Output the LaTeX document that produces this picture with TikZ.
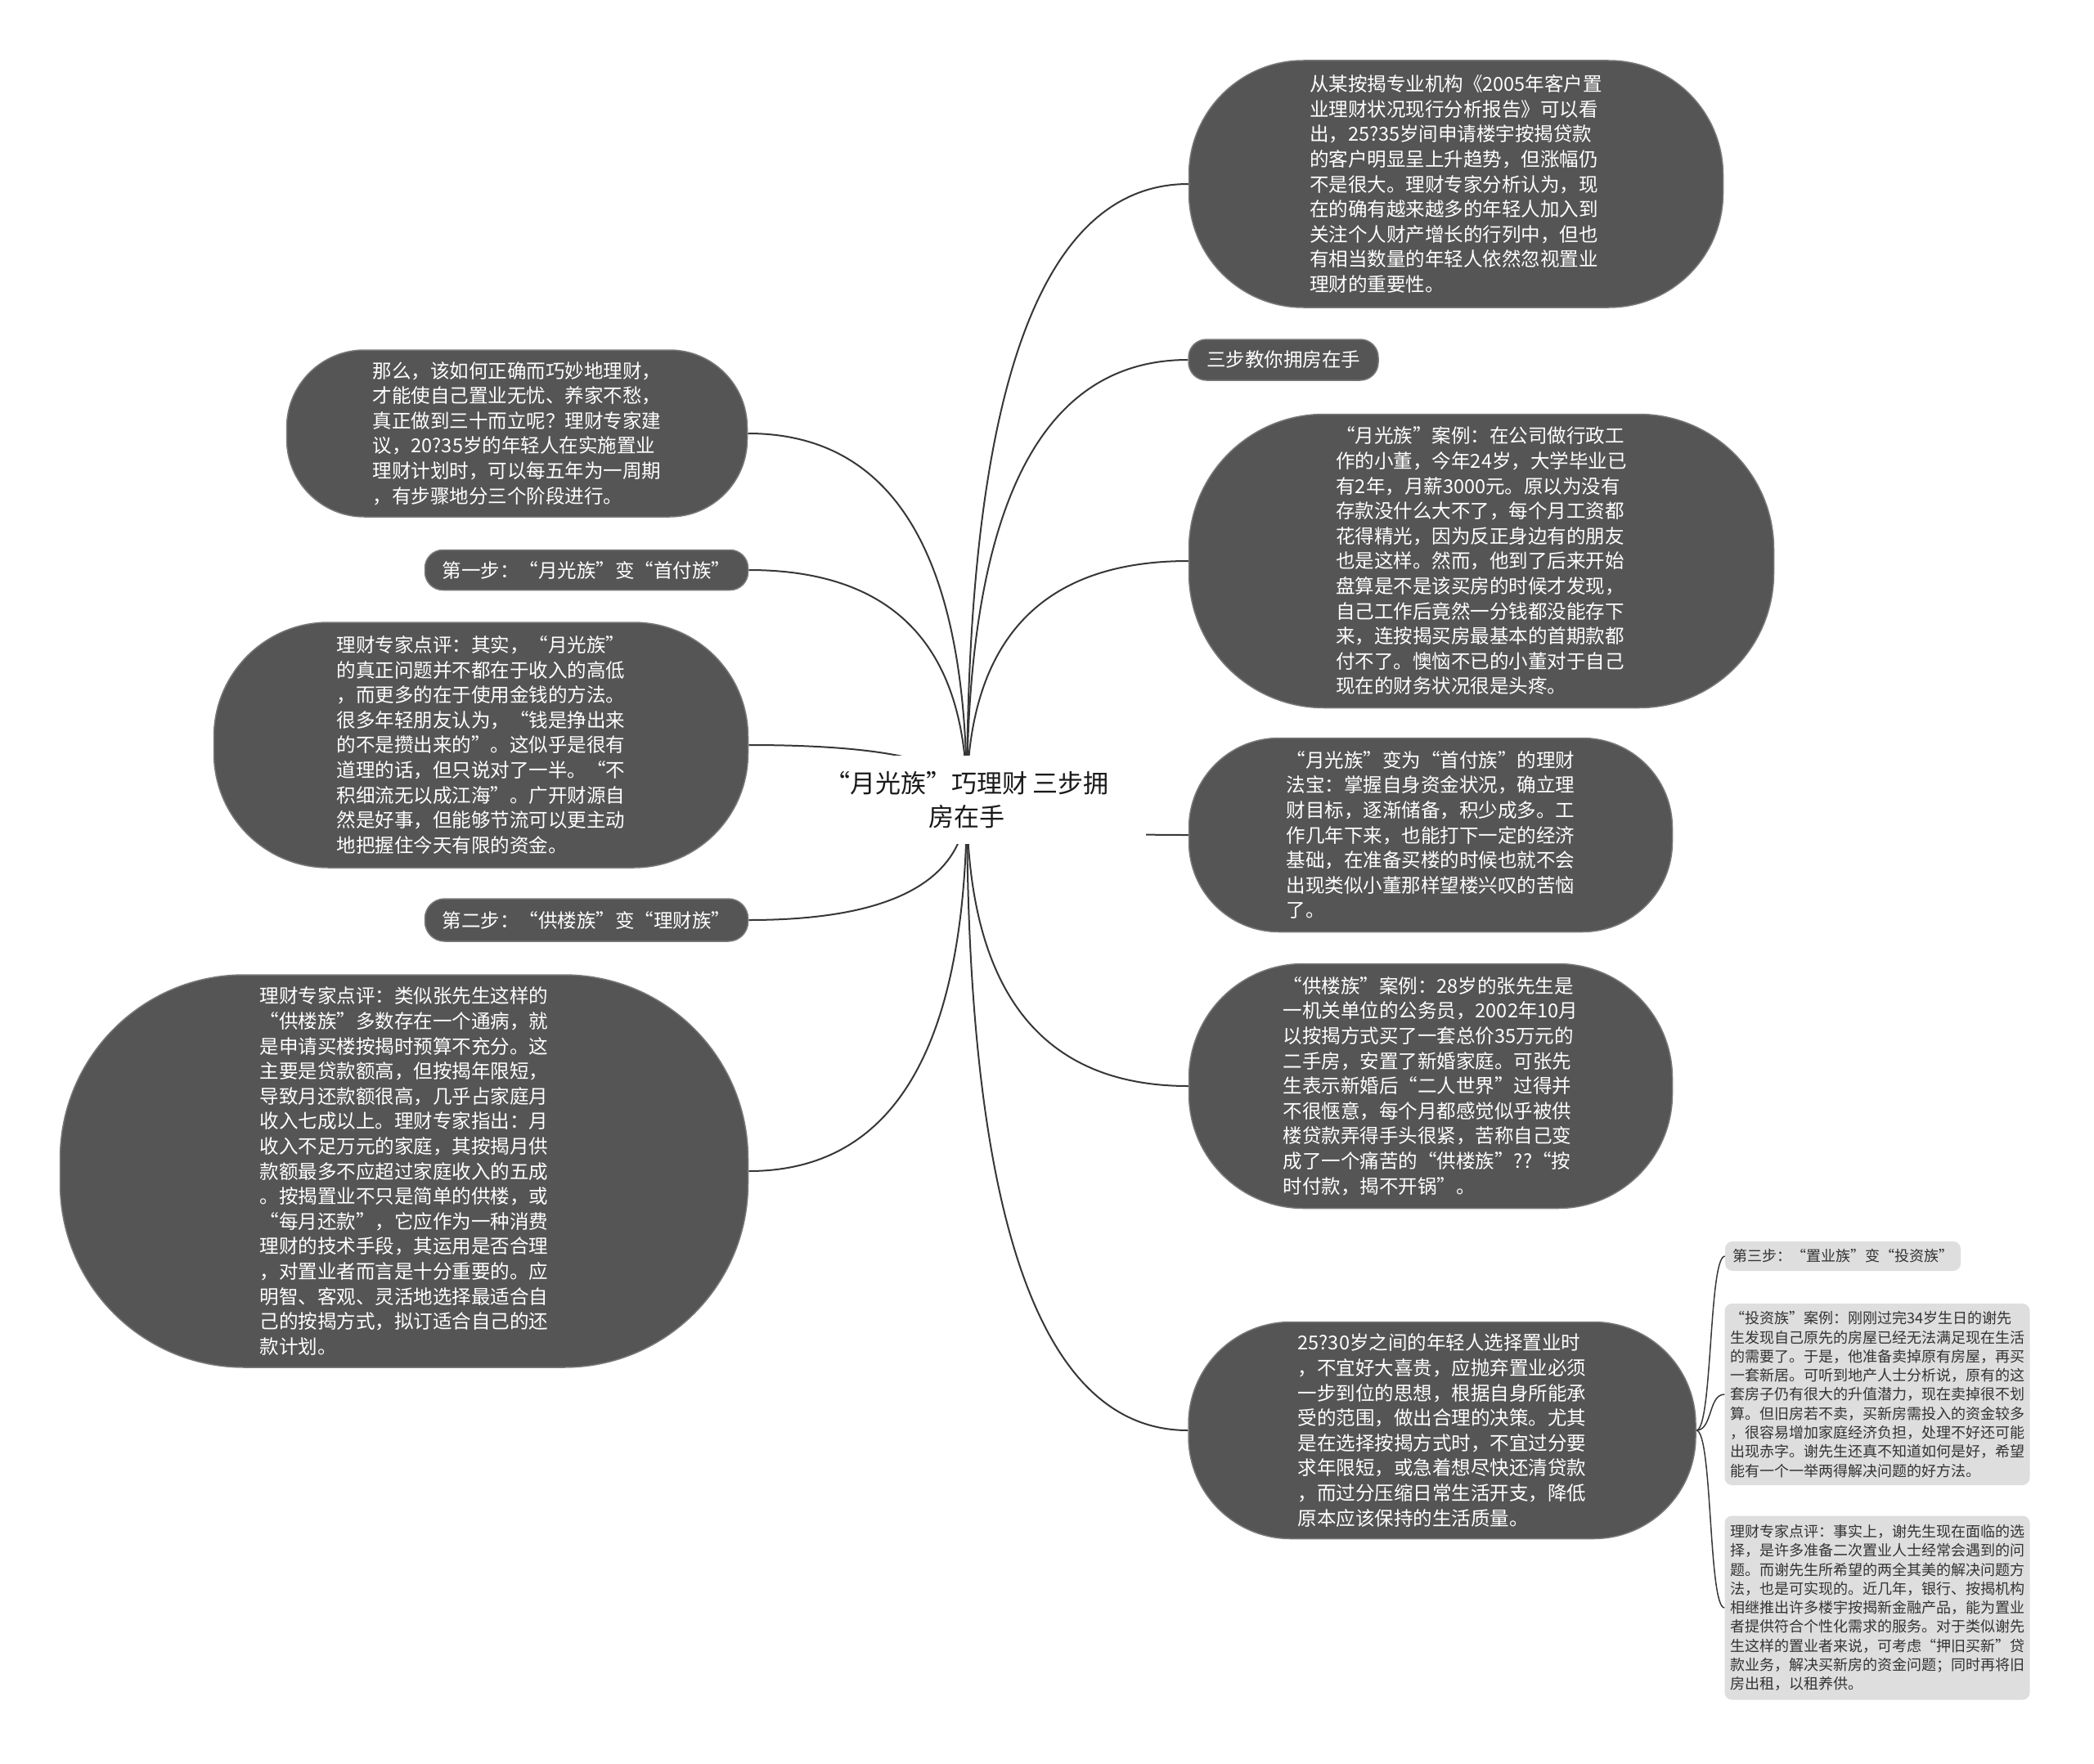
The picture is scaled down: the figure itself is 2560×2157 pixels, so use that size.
\documentclass[tikz,border=0pt]{standalone}
\usepackage{fontspec}
\setmainfont{Noto Sans CJK SC}
\usepackage{tikz}
\usetikzlibrary{backgrounds, calc}
\definecolor{topicGray}{RGB}{85,85,85}
\definecolor{topicEdge}{RGB}{120,120,120}
\definecolor{noteGray}{RGB}{222,222,222}
\definecolor{linkGray}{RGB}{55,55,55}

\begin{document}
\begin{tikzpicture}[
    x=1pt, y=-1pt,
    hub/.style={rectangle, fill=white, text=black!90, align=center, inner sep=0pt, minimum width=438pt, minimum height=108pt, font=\fontsize{31}{41}\selectfont},
    topic/.style={rectangle, draw=topicEdge, line width=1.5pt, fill=topicGray, text=white, align=left, inner sep=0pt, font=\fontsize{23.5}{30.6}\selectfont},
    note/.style={rectangle, fill=noteGray, text=black!80, align=left, inner sep=0pt, rounded corners=9pt, font=\fontsize{18}{23.3}\selectfont},
    link/.style={line width=2pt, linkGray}
]
\useasboundingbox (0,0) rectangle (2560,2157);

% central topic
\node[hub] (hub) at (1182, 978) {“月光族”巧理财~三步拥\\房在手};

% right branch
\node[topic, minimum width=653pt, minimum height=302pt, rounded corners=140pt] (case0) at (1780, 225) {从某按揭专业机构《2005年客户置\\业理财状况现行分析报告》可以看\\出，25?35岁间申请楼宇按揭贷款\\的客户明显呈上升趋势，但涨幅仍\\不是很大。理财专家分析认为，现\\在的确有越来越多的年轻人加入到\\关注个人财产增长的行列中，但也\\有相当数量的年轻人依然忽视置业\\理财的重要性。};
\node[topic, minimum width=232pt, minimum height=50pt, rounded corners=22pt] (title) at (1569, 440) {三步教你拥房在手};
\node[topic, minimum width=715pt, minimum height=359pt, rounded corners=165pt] (case1) at (1811, 686) {“月光族”案例：在公司做行政工\\作的小董，今年24岁，大学毕业已\\有2年，月薪3000元。原以为没有\\存款没什么大不了，每个月工资都\\花得精光，因为反正身边有的朋友\\也是这样。然而，他到了后来开始\\盘算是不是该买房的时候才发现，\\自己工作后竟然一分钱都没能存下\\来，连按揭买房最基本的首期款都\\付不了。懊恼不已的小董对于自己\\现在的财务状况很是头疼。};
\node[topic, minimum width=591pt, minimum height=237pt, rounded corners=110pt] (tip1) at (1749, 1021) {“月光族”变为“首付族”的理财\\法宝：掌握自身资金状况，确立理\\财目标，逐渐储备，积少成多。工\\作几年下来，也能打下一定的经济\\基础，在准备买楼的时候也就不会\\出现类似小董那样望楼兴叹的苦恼\\了。};
\node[topic, minimum width=591pt, minimum height=299pt, rounded corners=140pt] (case2) at (1749, 1328) {“供楼族”案例：28岁的张先生是\\一机关单位的公务员，2002年10月\\以按揭方式买了一套总价35万元的\\二手房，安置了新婚家庭。可张先\\生表示新婚后“二人世界”过得并\\不很惬意，每个月都感觉似乎被供\\楼贷款弄得手头很紧，苦称自己变\\成了一个痛苦的“供楼族”??“按\\时付款，揭不开锅”。};
\node[topic, minimum width=620pt, minimum height=265pt, rounded corners=125pt] (tip3) at (1763, 1749) {25?30岁之间的年轻人选择置业时\\，不宜好大喜贵，应抛弃置业必须\\一步到位的思想，根据自身所能承\\受的范围，做出合理的决策。尤其\\是在选择按揭方式时，不宜过分要\\求年限短，或急着想尽快还清贷款\\，而过分压缩日常生活开支，降低\\原本应该保持的生活质量。};

% third step notes
\node[note, minimum width=288pt, minimum height=36pt] (step3) at (2253, 1536) {第三步：“置业族”变“投资族”};
\node[note, minimum width=373pt, minimum height=222pt] (case3) at (2295, 1705) {“投资族”案例：刚刚过完34岁生日的谢先\\生发现自己原先的房屋已经无法满足现在生活\\的需要了。于是，他准备卖掉原有房屋，再买\\一套新居。可听到地产人士分析说，原有的这\\套房子仍有很大的升值潜力，现在卖掉很不划\\算。但旧房若不卖，买新房需投入的资金较多\\，很容易增加家庭经济负担，处理不好还可能\\出现赤字。谢先生还真不知道如何是好，希望\\能有一个一举两得解决问题的好方法。};
\node[note, minimum width=373pt, minimum height=225pt] (review3) at (2295, 1966) {理财专家点评：事实上，谢先生现在面临的选\\择，是许多准备二次置业人士经常会遇到的问\\题。而谢先生所希望的两全其美的解决问题方\\法，也是可实现的。近几年，银行、按揭机构\\相继推出许多楼宇按揭新金融产品，能为置业\\者提供符合个性化需求的服务。对于类似谢先\\生这样的置业者来说，可考虑“押旧买新”贷\\款业务，解决买新房的资金问题；同时再将旧\\房出租，以租养供。};

% left branch
\node[topic, minimum width=563pt, minimum height=204pt, rounded corners=95pt] (intro) at (632, 530) {那么，该如何正确而巧妙地理财，\\才能使自己置业无忧、养家不愁，\\真正做到三十而立呢？理财专家建\\议，20?35岁的年轻人在实施置业\\理财计划时，可以每五年为一周期\\，有步骤地分三个阶段进行。};
\node[topic, minimum width=395pt, minimum height=49pt, rounded corners=22pt] (step1) at (717, 697) {第一步：“月光族”变“首付族”};
\node[topic, minimum width=653pt, minimum height=300pt, rounded corners=140pt] (review1) at (588, 911) {理财专家点评：其实，“月光族”\\的真正问题并不都在于收入的高低\\，而更多的在于使用金钱的方法。\\很多年轻朋友认为，“钱是挣出来\\的不是攒出来的”。这似乎是很有\\道理的话，但只说对了一半。“不\\积细流无以成江海”。广开财源自\\然是好事，但能够节流可以更主动\\地把握住今天有限的资金。};
\node[topic, minimum width=395pt, minimum height=52pt, rounded corners=24pt] (step2) at (717, 1125) {第二步：“供楼族”变“理财族”};
\node[topic, minimum width=841pt, minimum height=480pt, rounded corners=225pt] (review2) at (494, 1432) {理财专家点评：类似张先生这样的\\“供楼族”多数存在一个通病，就\\是申请买楼按揭时预算不充分。这\\主要是贷款额高，但按揭年限短，\\导致月还款额很高，几乎占家庭月\\收入七成以上。理财专家指出：月\\收入不足万元的家庭，其按揭月供\\款额最多不应超过家庭收入的五成\\。按揭置业不只是简单的供楼，或\\“每月还款”，它应作为一种消费\\理财的技术手段，其运用是否合理\\，对置业者而言是十分重要的。应\\明智、客观、灵活地选择最适合自\\己的按揭方式，拟订适合自己的还\\款计划。};

% connectors
\begin{scope}[on background layer]
\foreach \target in {case0, title, case1, tip1, case2, tip3}
    \draw[link] (hub.center) .. controls ($(hub.center)!2/3!(hub.center |- \target.west)$) and ($(\target.west)!2/3!(hub.center |- \target.west)$) .. (\target.west);
\foreach \target in {intro, step1, review1, step2, review2}
    \draw[link] (hub.center) .. controls ($(hub.center)!2/3!(hub.center |- \target.east)$) and ($(\target.east)!2/3!(hub.center |- \target.east)$) .. (\target.east);
\foreach \target in {step3, case3, review3}
    \draw[link, line width=1.5pt] (tip3.east) .. controls ([xshift=20pt]tip3.east) and ([xshift=-20pt]\target.west) .. (\target.west);
\end{scope}
\end{tikzpicture}
\end{document}
